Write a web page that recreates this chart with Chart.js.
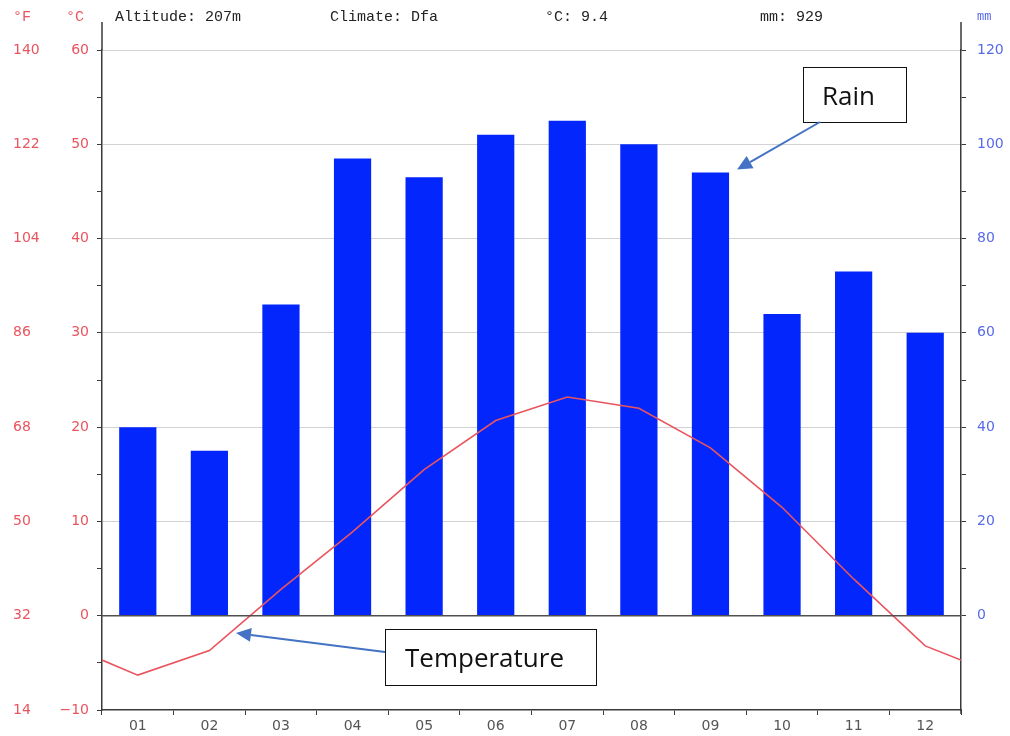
<!DOCTYPE html>
<html>
<head>
<meta charset="utf-8">
<title>Climate chart</title>
<script src="https://cdn.jsdelivr.net/npm/chart.js@4/dist/chart.umd.min.js"></script>
<style>
  html, body { margin: 0; padding: 0; background: #ffffff; }
  #wrap { width: 1010px; height: 736px; position: relative; }
  canvas { display: block; }
</style>
</head>
<body>
<div id="wrap"><canvas id="climate" width="1010" height="736"></canvas></div>
<script>
// Monthly climate data
const months = ['01', '02', '03', '04', '05', '06', '07', '08', '09', '10', '11', '12'];
const rainMm = [40, 35, 66, 97, 93, 102, 105, 100, 94, 64, 73, 60];
const tempC = [-6.3, -3.7, 2.8, 8.9, 15.5, 20.7, 23.2, 22.0, 17.8, 11.5, 3.9, -3.2];
// year-wrap values where the curve meets the left and right edges
const tempEdge = [-4.7, -4.7];

// header facts
const headerItems = ['Altitude: 207m', 'Climate: Dfa', '°C: 9.4', 'mm: 929'];

const RED = 'rgb(234, 84, 94)';
const BLUE = 'rgb(88, 106, 232)';
const BAR = '#0326fc';
const AXIS = '#3a3a3a';

// temperature curve on a continuous month axis (0..12), points at mid-month
const tempPoints = [{ x: 0, y: tempEdge[0] }]
  .concat(tempC.map((v, i) => ({ x: i + 0.5, y: v })))
  .concat([{ x: months.length, y: tempEdge[1] }]);

function drawArrow(ctx, x1, y1, x2, y2, color) {
  const ang = Math.atan2(y2 - y1, x2 - x1);
  const head = 15, wing = 7;
  const bx = x2 - head * Math.cos(ang), by = y2 - head * Math.sin(ang);
  ctx.save();
  ctx.strokeStyle = color;
  ctx.fillStyle = color;
  ctx.lineWidth = 2;
  ctx.beginPath();
  ctx.moveTo(x1, y1);
  ctx.lineTo(bx, by);
  ctx.stroke();
  ctx.beginPath();
  ctx.moveTo(x2, y2);
  ctx.lineTo(bx + wing * Math.sin(ang), by - wing * Math.cos(ang));
  ctx.lineTo(bx - wing * Math.sin(ang), by + wing * Math.cos(ang));
  ctx.closePath();
  ctx.fill();
  ctx.restore();
}

function drawCallout(ctx, box, text, from, to) {
  ctx.save();
  ctx.fillStyle = '#ffffff';
  ctx.fillRect(box.x, box.y, box.w, box.h);
  ctx.strokeStyle = '#111111';
  ctx.lineWidth = 1;
  ctx.strokeRect(box.x + 0.5, box.y + 0.5, box.w, box.h);
  ctx.fillStyle = '#111111';
  ctx.font = '26px "Open Sans", "Noto Sans", sans-serif';
  ctx.textAlign = 'center';
  ctx.textBaseline = 'middle';
  ctx.fillText(text, box.x + box.w / 2 - 6, box.y + box.h / 2 + 3);
  ctx.restore();
  drawArrow(ctx, from[0], from[1], to[0], to[1], '#4472c4');
}

const decorations = {
  id: 'decorations',
  afterDraw(chart) {
    const ctx = chart.ctx;
    const area = chart.chartArea;
    const yC = chart.scales.yC;
    const yR = chart.scales.yR;

    // axis lines reach up past the plot top
    ctx.save();
    ctx.strokeStyle = AXIS;
    ctx.lineWidth = 1.5;
    ctx.beginPath();
    ctx.moveTo(area.left, 22);
    ctx.lineTo(area.left, area.top);
    ctx.moveTo(area.right, 22);
    ctx.lineTo(area.right, area.top);
    ctx.moveTo(area.right, area.bottom);
    ctx.lineTo(area.right, area.bottom + 4);
    ctx.stroke();

    // zero line
    ctx.strokeStyle = '#505050';
    ctx.lineWidth = 1.5;
    const y0 = yC.getPixelForValue(0);
    ctx.beginPath();
    ctx.moveTo(area.left, y0);
    ctx.lineTo(area.right, y0);
    ctx.stroke();

    // unit captions
    ctx.font = '15px "Liberation Mono", "DejaVu Sans Mono", monospace';
    ctx.textBaseline = 'middle';
    ctx.textAlign = 'left';
    ctx.fillStyle = RED;
    ctx.fillText('°F', 13, 17);
    ctx.fillText('°C', 66, 17);
    ctx.fillStyle = BLUE;
    ctx.font = '12px "Liberation Mono", "DejaVu Sans Mono", monospace';
    ctx.fillText('mm', 977, 17);

    // header facts
    ctx.fillStyle = '#222222';
    ctx.font = '15px "Liberation Mono", "DejaVu Sans Mono", monospace';
    const hx = [115, 330, 545, 760];
    headerItems.forEach((t, i) => ctx.fillText(t, hx[i], 17));
    ctx.restore();

    // callouts
    const sepBar = chart.getDatasetMeta(0).data[8];
    const sepTop = yR.getPixelForValue(rainMm[8]);
    drawCallout(ctx, { x: 803, y: 67, w: 103, h: 55 }, 'Rain',
      [820, 122], [sepBar.x + sepBar.width / 2 + 8, sepTop - 3]);
    drawCallout(ctx, { x: 385, y: 629, w: 211, h: 56 }, 'Temperature',
      [385, 652], [236, 633]);
  }
};

new Chart(document.getElementById('climate'), {
  data: {
    labels: months,
    datasets: [
      {
        type: 'bar',
        label: 'Rain (mm)',
        data: rainMm,
        xAxisID: 'x',
        yAxisID: 'yR',
        backgroundColor: BAR,
        borderWidth: 0,
        grouped: false,
        barPercentage: 0.52,
        categoryPercentage: 1.0,
        order: 1
      },
      {
        type: 'line',
        label: 'Temperature (°C)',
        data: tempPoints,
        xAxisID: 'xl',
        yAxisID: 'yC',
        borderColor: RED,
        borderWidth: 1.6,
        pointRadius: 0,
        tension: 0,
        fill: false,
        order: 0
      }
    ]
  },
  options: {
    responsive: false,
    animation: false,
    layout: { padding: { left: 13, top: 50, right: 0, bottom: 0 } },
    plugins: {
      legend: { display: false },
      tooltip: { enabled: false }
    },
    scales: {
      x: {
        type: 'category',
        position: 'bottom',
        offset: true,
        grid: {
          offset: true,
          drawOnChartArea: false,
          drawTicks: true,
          tickLength: 5,
          tickColor: AXIS
        },
        border: { display: true, color: AXIS, width: 1.5 },
        ticks: {
          color: '#555555',
          font: { family: '"DejaVu Sans", sans-serif', size: 14 },
          padding: 3,
          maxRotation: 0
        },
        afterFit(axis) { axis.height = 26; }
      },
      xl: {
        type: 'linear',
        display: false,
        min: 0,
        max: months.length
      },
      yC: {
        type: 'linear',
        position: 'left',
        weight: 0,
        min: -10,
        max: 60,
        ticks: {
          stepSize: 5,
          color: RED,
          font: { family: '"DejaVu Sans", sans-serif', size: 14 },
          padding: 8,
          callback: v => (v % 10 === 0 ? String(v).replace('-', '\u2212') : '')
        },
        grid: {
          drawTicks: true,
          tickLength: 5,
          tickColor: AXIS,
          lineWidth: 1,
          color: ctx => (ctx.tick && ctx.tick.value > 0 && ctx.tick.value % 10 === 0 ? '#d2d2d2' : 'rgba(0,0,0,0)')
        },
        border: { display: true, color: AXIS, width: 1.5 },
        afterFit(axis) { axis.width = 52; }
      },
      yF: {
        type: 'linear',
        position: 'left',
        weight: 1,
        min: 14,
        max: 140,
        ticks: {
          stepSize: 9,
          color: RED,
          crossAlign: 'far',
          font: { family: '"DejaVu Sans", sans-serif', size: 14 },
          callback: v => ((v - 14) % 18 === 0 ? String(v) : '')
        },
        grid: { display: false, drawTicks: false },
        border: { display: false },
        afterFit(axis) { axis.width = 37; }
      },
      yR: {
        type: 'linear',
        position: 'right',
        min: -20,
        max: 120,
        ticks: {
          stepSize: 10,
          color: BLUE,
          font: { family: '"DejaVu Sans", sans-serif', size: 14 },
          padding: 11,
          callback: v => (v >= 0 && v % 20 === 0 ? String(v) : '')
        },
        grid: {
          drawOnChartArea: false,
          drawTicks: true,
          tickLength: 5,
          tickColor: ctx => (ctx.tick && ctx.tick.value >= 0 ? AXIS : 'rgba(0,0,0,0)')
        },
        border: { display: true, color: AXIS, width: 1.5 },
        afterFit(axis) { axis.width = 49; }
      }
    }
  },
  plugins: [decorations]
});
</script>
</body>
</html>
